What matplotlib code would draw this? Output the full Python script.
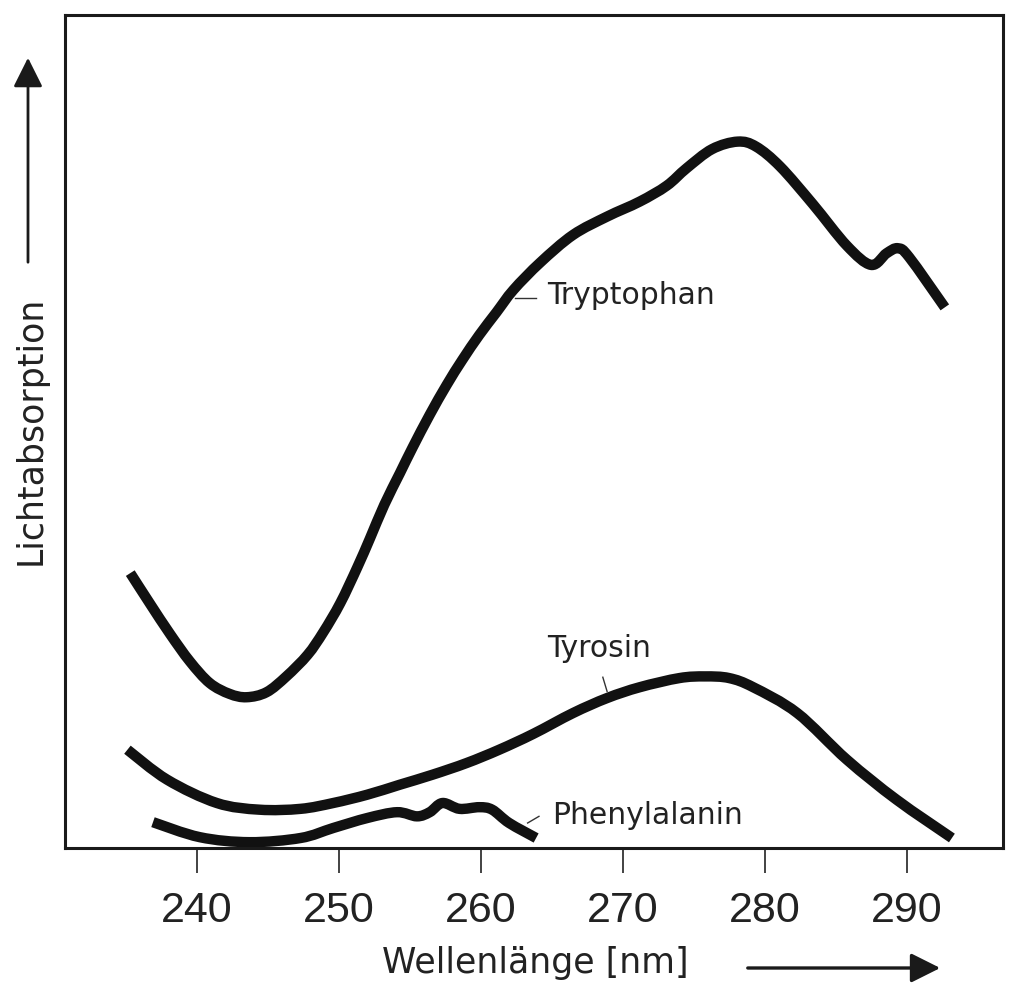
import matplotlib
matplotlib.use("Agg")
import matplotlib.pyplot as plt
from matplotlib.path import Path
from matplotlib.patches import PathPatch, FancyArrowPatch

# Data (wavelength in nm, absorption in arbitrary units 0..1)
trp_wl = [235.3, 236.7, 238.1, 239.5, 240.9, 242.3, 243.5, 244.9, 246.3, 247.8,
          248.9, 250.1, 251.3, 252.2, 253.2, 254.3, 255.2, 256.4, 257.6, 258.7,
          259.9, 261.1, 262.3, 264.2, 266.5, 268.9, 271.2, 273.1, 274.5, 276.3,
          278.1, 279.4, 281.1, 283.4, 285.8, 287.5, 288.6, 289.4, 290.2, 292.7]
trp_abs = [0.330, 0.293, 0.257, 0.224, 0.198, 0.185, 0.181, 0.187, 0.206, 0.232,
           0.259, 0.294, 0.337, 0.372, 0.412, 0.450, 0.481, 0.520, 0.556, 0.586,
           0.616, 0.643, 0.670, 0.703, 0.736, 0.758, 0.776, 0.795, 0.816, 0.839,
           0.848, 0.842, 0.818, 0.773, 0.723, 0.700, 0.714, 0.720, 0.709, 0.649]

tyr_wl = [235.1, 237.9, 241.4, 244.4, 247.3, 249.6, 252.0, 254.3, 256.6, 259.0,
          261.3, 263.7, 266.5, 268.9, 271.2, 274.0, 275.8, 277.5, 279.2, 282.3,
          285.8, 289.3, 293.2]
tyr_abs = [0.118, 0.082, 0.054, 0.046, 0.047, 0.054, 0.064, 0.076, 0.088, 0.102,
           0.118, 0.137, 0.162, 0.180, 0.193, 0.204, 0.206, 0.204, 0.193, 0.162,
           0.106, 0.058, 0.012]

phe_wl = [236.9, 240.2, 243.7, 247.3, 249.6, 252.0, 254.1, 255.5, 256.4, 257.3,
          258.5, 259.9, 260.8, 262.0, 263.9]
phe_abs = [0.031, 0.013, 0.007, 0.012, 0.024, 0.036, 0.043, 0.038, 0.043, 0.054,
           0.047, 0.049, 0.046, 0.030, 0.012]

xticks = [240, 250, 260, 270, 280, 290]
xlabel = "Wellenlänge [nm]"
ylabel = "Lichtabsorption"
names = ["Tryptophan", "Tyrosin", "Phenylalanin"]


def smooth_path(xs, ys):
    """Catmull-Rom curve through the points, as cubic Bezier segments."""
    pts = list(zip(xs, ys))
    n = len(pts)
    verts = [pts[0]]
    codes = [Path.MOVETO]
    for i in range(n - 1):
        p0 = pts[i - 1] if i > 0 else pts[i]
        p1 = pts[i]
        p2 = pts[i + 1]
        p3 = pts[i + 2] if i + 2 < n else pts[i + 1]
        c1 = (p1[0] + (p2[0] - p0[0]) / 6.0, p1[1] + (p2[1] - p0[1]) / 6.0)
        c2 = (p2[0] - (p3[0] - p1[0]) / 6.0, p2[1] - (p3[1] - p1[1]) / 6.0)
        verts += [c1, c2, p2]
        codes += [Path.CURVE4] * 3
    return Path(verts, codes)


W, H = 1014, 997
fig = plt.figure(figsize=(W / 100, H / 100), dpi=100)
ax = fig.add_axes([65 / W, 1 - 848 / H, (1003 - 65) / W, (848 - 15) / H])

lw = 7.5
for xs, ys in [(trp_wl, trp_abs), (tyr_wl, tyr_abs), (phe_wl, phe_abs)]:
    patch = PathPatch(smooth_path(xs, ys), facecolor="none", edgecolor="#111111",
                      lw=lw, capstyle="butt", joinstyle="round")
    ax.add_patch(patch)

ax.set_xlim(230.7, 296.8)
ax.set_ylim(0, 1)
ax.set_xticks(xticks)
ax.set_xticklabels([str(t) for t in xticks], fontfamily="Liberation Sans",
                   fontsize=31, color="#222222")
ax.set_yticks([])
ax.tick_params(axis="x", direction="out", length=18, width=1.2,
               pad=13, color="#222222")
for s in ax.spines.values():
    s.set_linewidth(2.2)
    s.set_color("#1a1a1a")

# curve labels with leader lines
tfont = dict(fontfamily="DejaVu Sans", fontsize=21.5, color="#222222")
ax.text(264.7, 0.653, names[0], ha="left", va="baseline", **tfont)
ax.plot([262.4, 263.9], [0.660, 0.660], color="#333333", lw=1.0)
ax.text(264.7, 0.229, names[1], ha="left", va="baseline", **tfont)
ax.plot([268.6, 268.9], [0.205, 0.188], color="#333333", lw=1.0)
ax.text(265.0, 0.029, names[2], ha="left", va="baseline", **tfont)
ax.plot([263.3, 264.1], [0.030, 0.038], color="#333333", lw=1.0)

# axis labels with arrows (figure coordinates)
fig.text(535 / W, 1 - 963 / H, xlabel, ha="center", va="center",
         fontfamily="DejaVu Sans", fontsize=25, color="#222222")
fig.text(31 / W, 1 - 430 / H, ylabel, ha="center", va="center", rotation=90,
         fontfamily="DejaVu Sans", fontsize=25, color="#222222")

fig.add_artist(FancyArrowPatch(
    (745 / W, 1 - 968 / H), (943 / W, 1 - 968 / H),
    transform=fig.transFigure, arrowstyle="-|>,head_length=12,head_width=6",
    color="#1a1a1a", lw=2.4, mutation_scale=1.5))
fig.add_artist(FancyArrowPatch(
    (28 / W, 1 - 265 / H), (28 / W, 1 - 55 / H),
    transform=fig.transFigure, arrowstyle="-|>,head_length=12,head_width=6",
    color="#1a1a1a", lw=2.0, mutation_scale=1.5))

fig.savefig("out.png", dpi=100, facecolor="white")
